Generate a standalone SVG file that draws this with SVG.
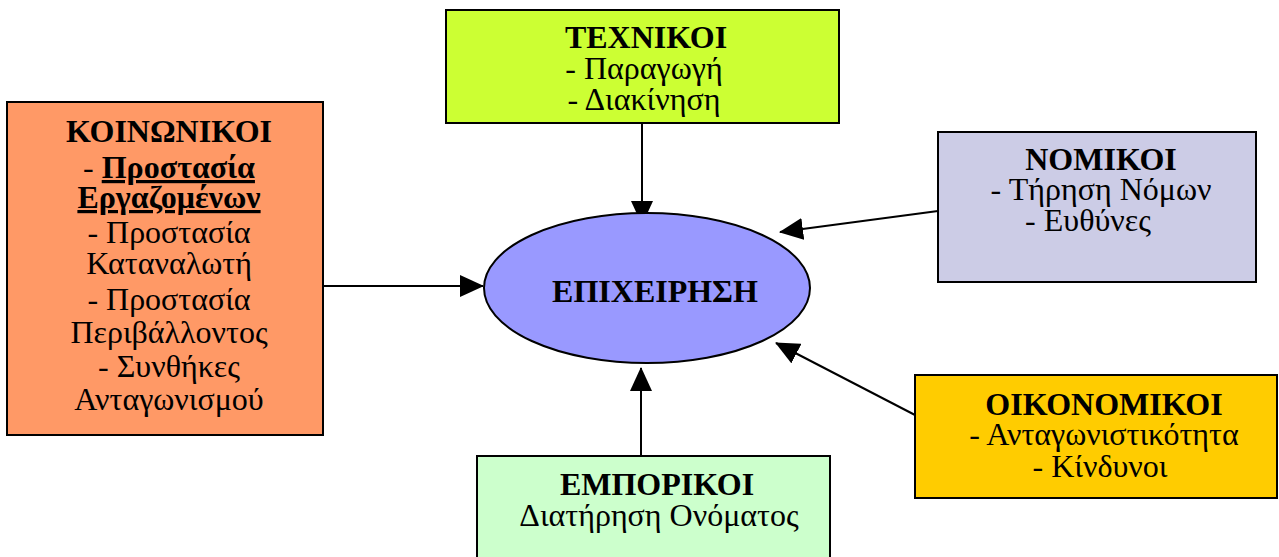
<svg xmlns="http://www.w3.org/2000/svg" width="1279" height="557" viewBox="0 0 1279 557">
<style>
.box{stroke:#000;stroke-width:2}
text{font-family:"Liberation Serif","Times New Roman",serif;font-size:32px;fill:#000;text-anchor:middle}
.b{font-weight:bold}
.con{stroke:#000;stroke-width:2;fill:none;marker-end:url(#ah)}
</style>
<defs>
<marker id="ah" markerUnits="userSpaceOnUse" markerWidth="24" markerHeight="22" refX="23" refY="11" orient="auto">
<path d="M0,0 L24,11 L0,22 z" fill="#000"/>
</marker>
</defs>
<rect width="1279" height="557" fill="#fff"/>
<g id="connectors">
<line class="con" x1="642" y1="123" x2="642" y2="224"/>
<line class="con" x1="641" y1="456" x2="641" y2="368"/>
<line class="con" x1="323" y1="286" x2="483" y2="286"/>
<line class="con" x1="938" y1="211" x2="780" y2="232"/>
<line class="con" x1="915" y1="415" x2="776" y2="343"/>
</g>
<g id="epixeirisi">
<ellipse cx="647" cy="288" rx="163" ry="75" fill="#9999FF" stroke="#000" stroke-width="2"/>
<text x="655" y="302" class="b">ΕΠΙΧΕΙΡΗΣΗ</text>
</g>
<g id="koinonikoi">
<rect class="box" x="7" y="102" width="316" height="333" fill="#FF9966"/>
<text x="169" y="142" class="b">ΚΟΙΝΩΝΙΚΟΙ</text>
<text x="169" y="178">- <tspan class="b" text-decoration="underline">Προστασία</tspan></text>
<text x="169" y="208" class="b" text-decoration="underline">Εργαζομένων</text>
<text x="169" y="243">- Προστασία</text>
<text x="169" y="274">Καταναλωτή</text>
<text x="169" y="310">- Προστασία</text>
<text x="169" y="343">Περιβάλλοντος</text>
<text x="169" y="377">- Συνθήκες</text>
<text x="169" y="410">Ανταγωνισμού</text>
</g>
<g id="technikoi">
<rect class="box" x="446" y="10" width="393" height="113" fill="#CCFF33"/>
<text x="646" y="48" class="b">ΤΕΧΝΙΚΟΙ</text>
<text x="644" y="79">- Παραγωγή</text>
<text x="644" y="110">- Διακίνηση</text>
</g>
<g id="nomikoi">
<rect class="box" x="938" y="132" width="318" height="150" fill="#CCCCE6"/>
<text x="1101" y="170" class="b">ΝΟΜΙΚΟΙ</text>
<text x="1101" y="200">- Τήρηση Νόμων</text>
<text x="1088" y="231">- Ευθύνες</text>
</g>
<g id="oikonomikoi">
<rect class="box" x="915" y="375" width="362" height="123" fill="#FFCC00"/>
<text x="1104" y="415" class="b">ΟΙΚΟΝΟΜΙΚΟΙ</text>
<text x="1104" y="445">- Ανταγωνιστικότητα</text>
<text x="1100" y="477">- Κίνδυνοι</text>
</g>
<g id="emporikoi">
<rect class="box" x="477" y="456" width="353" height="120" fill="#CCFFCC"/>
<text x="657" y="495" class="b">ΕΜΠΟΡΙΚΟΙ</text>
<text x="659" y="526">Διατήρηση Ονόματος</text>
</g>
</svg>
